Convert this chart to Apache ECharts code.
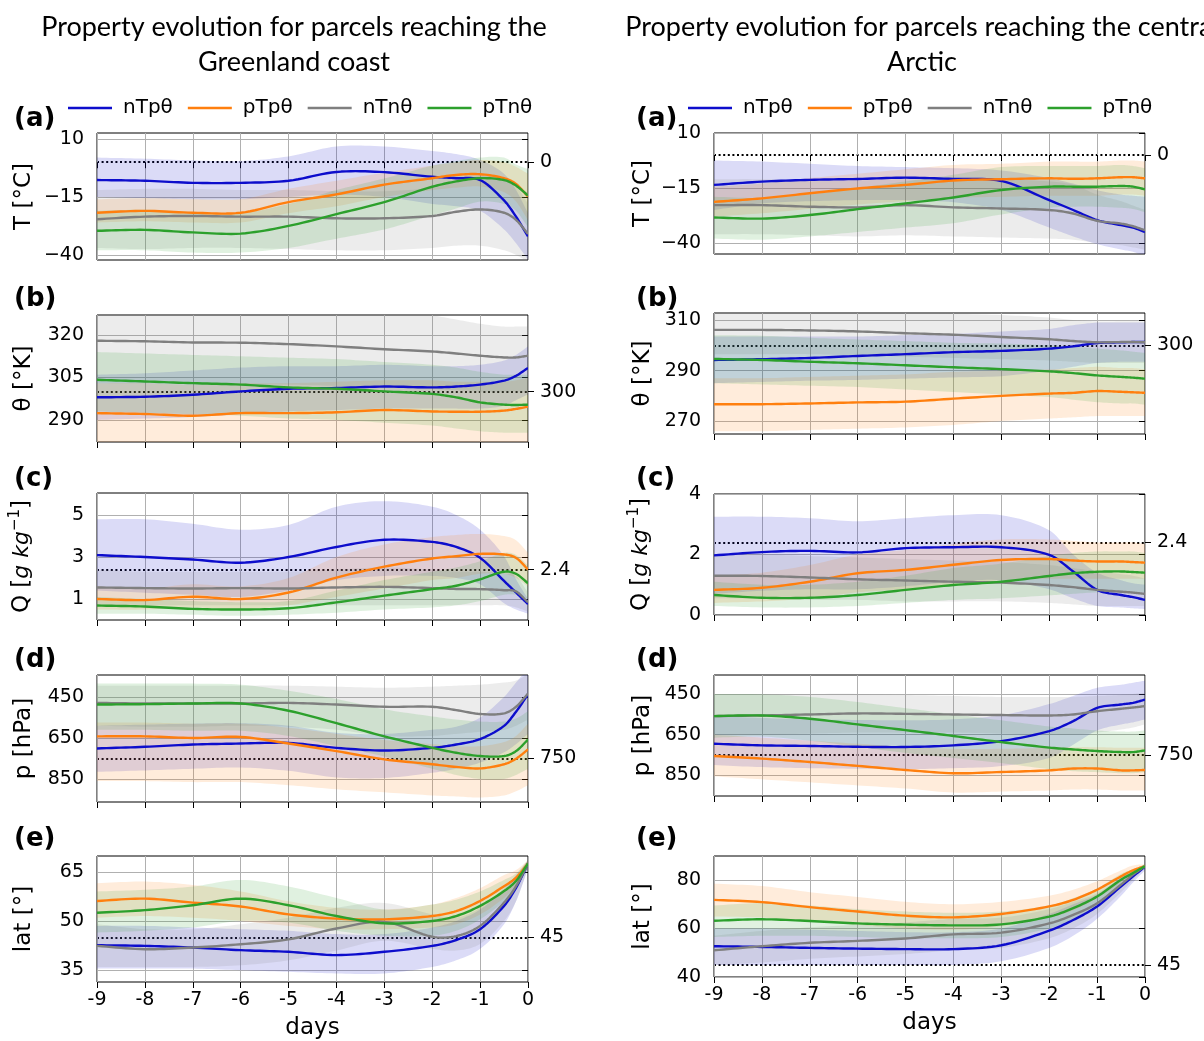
<!DOCTYPE html>
<html>
<head>
<meta charset="utf-8">
<title>Property evolution</title>
<script src="https://cdn.jsdelivr.net/npm/echarts@6/dist/echarts.min.js"></script>
<style>
  html, body { margin: 0; padding: 0; background: #fff; }
  #chart { width: 1204px; height: 1041px; }
</style>
</head>
<body>
<div id="chart"></div>
<script>
// x positions (days before arrival)
const days = [-9, -8, -7, -6, -5, -4, -3, -2, -1.5, -1, -0.5, -0.25, 0];
const groups = ['nTpθ', 'pTpθ', 'nTnθ', 'pTnθ'];
const groupColors = ['#0d0dcc', '#ff7f0e', '#7f7f7f', '#2ca02c'];

// ---- Greenland coast ----
// (a) T
const gT_nTp = [-7.7, -8.0, -8.9, -8.9, -8.0, -4.2, -4.3, -6.3, -6.9, -7.7, -16.5, -23.5, -32];
const gT_nTpLo = [-15, -15.5, -16, -16, -15, -14, -15, -18, -19, -21, -29, -35, -42];
const gT_nTpHi = [2, 1.5, 0.8, 0.5, 2.5, 6.8, 6.8, 4.8, 3.5, 1, -5, -12, -22];
const gT_pTp = [-21.8, -21, -21.8, -21.8, -17.2, -13.9, -9.7, -6.9, -5.5, -5.2, -6.9, -9.4, -14.8];
const gT_pTpLo = [-26, -25.5, -26, -26, -22, -19, -15, -12, -11, -10.5, -13, -17, -25];
const gT_pTpHi = [-16, -15.5, -16, -16, -11.5, -8, -4.5, -1.5, 0, 1, 0, -2, -5];
const gT_nTn = [-24.6, -23.5, -23.2, -23.5, -23.5, -24.2, -24.2, -23.2, -21.4, -20.4, -21.8, -24.9, -31];
const gT_nTnLo = [-37, -37.5, -37, -37, -37.5, -38, -38, -37, -36, -36, -38, -40, -43];
const gT_nTnHi = [-12, -11.5, -11.5, -12, -12, -12.5, -12.5, -11, -8.5, -6, -7, -10, -18];
const gT_pTn = [-29.6, -29.2, -30.3, -30.8, -27.5, -22.4, -17.2, -10.6, -8.3, -6.9, -7.7, -10.1, -14.4];
const gT_pTnLo = [-38, -38, -39, -39, -37, -33, -29, -23, -20, -17, -18, -21, -28];
const gT_pTnHi = [-21, -20.5, -21.5, -22, -18, -12, -7, -1.5, 0.5, 2, 2, -1, -3];
// (b) theta
const gTh_nTp = [298, 298.2, 298.9, 300.1, 301, 301.3, 301.8, 301.5, 301.8, 302.5, 303.9, 305.6, 308.4];
const gTh_nTpLo = [290, 290.5, 291, 292, 293, 293.5, 294, 294, 294, 294, 295, 297, 299];
const gTh_nTpHi = [306, 306.5, 307.5, 308.5, 309, 309, 309.5, 309, 309, 309.5, 311, 313, 316];
const gTh_pTp = [292.4, 292.1, 291.5, 292.4, 292.4, 292.7, 293.5, 293, 292.9, 292.9, 293.3, 293.9, 294.7];
const gTh_pTpLo = [279, 279, 278.5, 279, 279, 279.5, 280, 280, 280, 280, 280.5, 281, 281.5];
const gTh_pTpHi = [303, 303, 302.5, 303, 303, 303.5, 304, 304, 303.5, 303.5, 303.5, 304, 305];
const gTh_nTn = [318, 317.8, 317.4, 317.3, 316.8, 316, 315, 314.2, 313.5, 312.7, 312.1, 312.1, 312.7];
const gTh_nTnLo = [303, 303, 303, 302.5, 302.5, 302, 301.5, 301, 300.5, 300, 300, 300, 300];
const gTh_nTnHi = [333, 333, 332.5, 332.5, 332, 331, 329.5, 327, 325.5, 324, 323, 323, 323];
const gTh_pTn = [304.2, 303.6, 303, 302.5, 301.5, 301, 300.1, 299.2, 298, 296.2, 295.4, 295.3, 295.4];
const gTh_pTnLo = [293, 292.5, 292, 291.5, 290.5, 290, 289, 288, 287, 286, 285.5, 285.5, 285.5];
const gTh_pTnHi = [314, 313.5, 313, 312.5, 312, 311.5, 310.5, 309.5, 308.5, 307, 306, 306, 306];
// (c) Q
const gQ_nTp = [3.09, 3.0, 2.88, 2.73, 3.0, 3.48, 3.82, 3.72, 3.48, 2.96, 1.86, 1.31, 0.76];
const gQ_nTpLo = [1.4, 1.3, 1.2, 1.1, 1.4, 1.9, 2.1, 2.1, 2.0, 1.7, 0.8, 0.5, 0.3];
const gQ_nTpHi = [4.8, 4.8, 4.58, 4.3, 4.53, 5.4, 5.66, 5.4, 5.0, 4.3, 3.04, 1.94, 1.0];
const gQ_pTp = [1.0, 0.95, 1.11, 1.0, 1.31, 2.02, 2.54, 2.93, 3.04, 3.15, 3.12, 2.96, 2.41];
const gQ_pTpLo = [0.5, 0.5, 0.6, 0.5, 0.7, 1.1, 1.5, 1.9, 2.0, 2.2, 2.2, 2.0, 1.6];
const gQ_pTpHi = [1.6, 1.5, 1.7, 1.6, 2.0, 3.0, 3.6, 3.95, 4.05, 4.1, 4.0, 3.8, 3.2];
const gQ_nTn = [1.55, 1.52, 1.5, 1.52, 1.5, 1.55, 1.58, 1.52, 1.48, 1.47, 1.42, 1.36, 0.84];
const gQ_nTnLo = [0.7, 0.7, 0.7, 0.7, 0.7, 0.7, 0.7, 0.7, 0.7, 0.7, 0.7, 0.6, 0.4];
const gQ_nTnHi = [2.4, 2.3, 2.3, 2.3, 2.3, 2.4, 2.5, 2.4, 2.3, 2.3, 2.2, 2.1, 1.3];
const gQ_pTn = [0.69, 0.64, 0.53, 0.5, 0.56, 0.84, 1.16, 1.47, 1.63, 1.94, 2.3, 2.2, 1.75];
const gQ_pTnLo = [0.3, 0.3, 0.25, 0.2, 0.25, 0.35, 0.5, 0.6, 0.7, 0.9, 1.2, 1.2, 1.0];
const gQ_pTnHi = [1.1, 1.0, 0.9, 0.85, 0.9, 1.4, 1.9, 2.3, 2.5, 2.8, 3.2, 3.1, 2.6];
// (d) p
const gP_nTp = [701, 693, 682, 677, 674, 698, 711, 698, 682, 655, 591, 522, 437];
const gP_nTpLo = [590, 585, 580, 578, 590, 625, 630, 610, 595, 550, 450, 380, 310];
const gP_nTpHi = [815, 808, 800, 794, 810, 842, 845, 820, 800, 770, 720, 680, 630];
const gP_pTp = [642, 642, 650, 645, 677, 714, 754, 778, 791, 798, 778, 751, 706];
const gP_pTpLo = [575, 575, 580, 580, 600, 630, 660, 680, 690, 690, 670, 640, 580];
const gP_pTpHi = [860, 860, 865, 865, 880, 900, 915, 930, 935, 940, 930, 910, 880];
const gP_nTn = [479, 482, 482, 482, 479, 487, 498, 498, 514, 533, 530, 498, 434];
const gP_nTnLo = [395, 395, 395, 395, 395, 400, 405, 400, 395, 390, 380, 370, 340];
const gP_nTnHi = [590, 595, 595, 590, 595, 610, 640, 640, 630, 620, 610, 590, 560];
const gP_pTn = [487, 485, 482, 482, 517, 578, 642, 698, 722, 738, 738, 714, 658];
const gP_pTnLo = [385, 385, 385, 390, 420, 460, 510, 545, 560, 570, 570, 555, 520];
const gP_pTnHi = [610, 610, 615, 615, 640, 690, 740, 800, 830, 850, 850, 830, 800];
// (e) lat
const gL_nTp = [42.6, 42.4, 41.9, 41.1, 40.6, 39.6, 40.6, 42.4, 44.2, 47.5, 54.6, 60.1, 67.5];
const gL_nTpLo = [35.5, 35.5, 35.5, 35, 34.5, 34, 34, 36, 38, 41.5, 49, 56, 66];
const gL_nTpHi = [48.5, 48.5, 48, 47.5, 47, 46, 46, 48, 50, 53.5, 59.5, 63.5, 68.5];
const gL_pTp = [56.1, 56.8, 55.6, 54.4, 52, 50.7, 50.5, 51.5, 53, 56.1, 60.6, 63.2, 67.5];
const gL_pTpLo = [51, 51.5, 51, 50, 48.5, 47.5, 47.5, 48, 49, 52, 57, 61, 66];
const gL_pTpHi = [61.5, 62, 61, 59, 56, 54, 53.5, 55, 57, 60, 64, 65.5, 68.5];
const gL_nTn = [42.4, 41.4, 41.9, 42.9, 44.4, 47.7, 49.7, 45.2, 45.4, 48.5, 55.6, 60.6, 67.5];
const gL_nTnLo = [36, 36, 36, 36.5, 38, 41, 44, 41.5, 41, 43, 50, 56, 66];
const gL_nTnHi = [49, 47.5, 47.5, 49, 51, 54, 55.5, 52, 51, 54, 60, 64, 68.5];
const gL_pTn = [52.5, 53.3, 54.8, 56.8, 54.8, 51.5, 49.3, 50, 51.5, 54.6, 59.1, 62.2, 67.5];
const gL_pTnLo = [46.5, 47, 48, 50, 49.5, 47, 45.5, 45.5, 47, 50.5, 56, 60, 66];
const gL_pTnHi = [59, 59.5, 60.5, 62.5, 60.5, 57, 53.5, 55, 56.5, 59, 62.5, 64.5, 68.5];

// ---- central Arctic ----
// (a) T
const aT_nTp = [-13.6, -12.1, -11.3, -10.9, -10.3, -10.9, -11.8, -20.5, -25, -29.6, -31.9, -33, -35];
const aT_nTpLo = [-25, -22, -21, -20.5, -20.5, -21.5, -25, -33, -37, -40.5, -43, -44, -46];
const aT_nTpHi = [-2.5, -3, -4, -5, -5.5, -6, -7, -10.5, -13, -16, -18, -18.5, -19];
const aT_pTp = [-21.3, -19.7, -17.4, -15.2, -13.6, -11.6, -11, -10.6, -10.8, -10.6, -10.1, -10.1, -10.6];
const aT_pTpLo = [-28, -26.5, -24.5, -22.5, -21, -19.5, -19, -18.5, -18.5, -18.5, -18, -18, -18.5];
const aT_pTpHi = [-14.5, -13, -10.5, -8.5, -6.5, -4.5, -4, -3, -3, -3, -2.5, -2.5, -3];
const aT_nTn = [-22.8, -22.8, -23.5, -23.8, -22.8, -23.8, -24.3, -25, -26.6, -29.9, -31.2, -32.4, -34.2];
const aT_nTnLo = [-36, -36, -36.5, -37, -36.5, -37, -37.5, -38, -38.5, -40, -41, -42, -43];
const aT_nTnHi = [-11, -11, -11.5, -11.5, -11, -11, -11, -12, -13.5, -18, -21, -23, -25];
const aT_pTn = [-28.4, -28.9, -27.3, -24.6, -22, -19.3, -15.9, -14.4, -14.4, -14.4, -14.1, -14.4, -15.6];
const aT_pTnLo = [-38, -38.5, -37, -35, -33, -31, -27, -24, -23.5, -23.5, -24, -24.5, -26];
const aT_pTnHi = [-19, -19.5, -18, -15, -12, -9, -5.5, -5, -5, -5, -4.5, -5, -6];
// (b) theta
const aTh_nTp = [294.2, 294.5, 295, 295.8, 296.5, 297.3, 297.8, 298.7, 299.6, 300.9, 301.2, 301.3, 301.3];
const aTh_nTpLo = [285, 285.5, 286, 286.3, 286.8, 287.3, 287.8, 290, 291.5, 293, 293.5, 293.5, 293.5];
const aTh_nTpHi = [303.5, 303.5, 303.5, 303.5, 304, 304.5, 305.5, 306.5, 308, 309, 309, 309, 309];
const aTh_pTp = [276.7, 276.7, 277, 277.4, 277.7, 278.9, 280, 280.9, 281.2, 281.9, 281.6, 281.4, 281.2];
const aTh_pTpLo = [266, 266, 266.5, 267, 267.5, 268.5, 270, 271, 271.5, 272, 272, 272, 272];
const aTh_pTpHi = [287, 287, 287.5, 288, 288.5, 289.5, 290, 290.5, 291, 291.5, 291, 291, 290.5];
const aTh_nTn = [306.1, 306.1, 305.9, 305.5, 304.8, 304.2, 303.3, 302.4, 301.7, 301.2, 301.3, 301.3, 301.2];
const aTh_nTnLo = [296.5, 296.5, 296.5, 296, 295.5, 295, 294.5, 294, 293.5, 293, 293, 293, 293];
const aTh_nTnHi = [314, 314, 314, 313.5, 313, 312.5, 312, 311, 310, 309.5, 309.5, 309.5, 309.5];
const aTh_pTn = [294.6, 294.2, 293.5, 292.9, 292.1, 291.3, 290.6, 289.7, 289, 288.1, 287.5, 287.2, 286.8];
const aTh_pTnLo = [285, 284.5, 284, 283.5, 282.5, 281.5, 280.5, 279.5, 278.5, 277.5, 277, 277, 276.5];
const aTh_pTnHi = [304, 303.8, 303, 302.3, 301.7, 301, 300.7, 300, 299.5, 298.7, 298, 297.5, 297];
// (c) Q
const aQ_nTp = [1.97, 2.08, 2.12, 2.07, 2.21, 2.24, 2.24, 1.99, 1.44, 0.83, 0.66, 0.59, 0.5];
const aQ_nTpLo = [0.7, 0.8, 0.85, 0.85, 0.95, 1.1, 1.15, 0.85, 0.55, 0.3, 0.25, 0.22, 0.2];
const aQ_nTpHi = [3.25, 3.25, 3.2, 3.1, 3.2, 3.3, 3.3, 2.8, 2.0, 1.4, 1.15, 1.05, 1.0];
const aQ_pTp = [0.83, 0.9, 1.1, 1.38, 1.49, 1.66, 1.82, 1.85, 1.8, 1.77, 1.77, 1.75, 1.73];
const aQ_pTpLo = [0.4, 0.45, 0.55, 0.75, 0.85, 1.0, 1.15, 1.2, 1.2, 1.2, 1.2, 1.2, 1.2];
const aQ_pTpHi = [1.3, 1.4, 1.65, 2.0, 2.15, 2.35, 2.5, 2.5, 2.45, 2.4, 2.4, 2.4, 2.35];
const aQ_nTn = [1.3, 1.29, 1.24, 1.18, 1.14, 1.1, 1.07, 0.99, 0.92, 0.83, 0.77, 0.74, 0.7];
const aQ_nTnLo = [0.55, 0.55, 0.5, 0.5, 0.45, 0.45, 0.45, 0.4, 0.35, 0.3, 0.3, 0.3, 0.3];
const aQ_nTnHi = [2.0, 2.0, 1.95, 1.9, 1.85, 1.8, 1.75, 1.65, 1.55, 1.45, 1.35, 1.3, 1.2];
const aQ_pTn = [0.66, 0.57, 0.57, 0.66, 0.83, 0.99, 1.1, 1.29, 1.38, 1.43, 1.44, 1.42, 1.4];
const aQ_pTnLo = [0.3, 0.25, 0.25, 0.3, 0.4, 0.5, 0.55, 0.65, 0.7, 0.75, 0.75, 0.75, 0.75];
const aQ_pTnHi = [1.1, 1.0, 1.0, 1.1, 1.3, 1.55, 1.7, 1.95, 2.05, 2.1, 2.1, 2.1, 2.05];
// (d) p
const aP_nTp = [695, 703, 706, 710, 711, 703, 682, 633, 584, 519, 502, 494, 478];
const aP_nTpLo = [560, 568, 575, 578, 580, 575, 555, 500, 460, 420, 405, 395, 385];
const aP_nTpHi = [800, 810, 815, 818, 820, 815, 805, 765, 700, 630, 600, 590, 575];
const aP_pTp = [755, 768, 785, 804, 824, 840, 834, 826, 817, 817, 826, 826, 824];
const aP_pTpLo = [650, 665, 680, 695, 710, 720, 720, 715, 712, 712, 715, 715, 715];
const aP_pTpHi = [855, 870, 885, 900, 915, 935, 930, 925, 920, 920, 925, 925, 925];
const aP_nTn = [559, 556, 551, 546, 548, 551, 554, 556, 551, 535, 523, 517, 510];
const aP_nTnLo = [450, 450, 450, 450, 455, 460, 465, 465, 465, 460, 455, 450, 445];
const aP_nTnHi = [650, 650, 645, 640, 640, 640, 645, 650, 650, 640, 625, 615, 600];
const aP_pTn = [559, 556, 572, 600, 628, 657, 687, 714, 723, 731, 736, 736, 728];
const aP_pTnLo = [450, 452, 465, 490, 520, 550, 580, 610, 620, 630, 635, 635, 630];
const aP_pTnHi = [665, 660, 680, 710, 740, 765, 790, 820, 830, 835, 840, 840, 835];
// (e) lat
const aL_nTp = [52.7, 52.4, 52, 51.7, 51.5, 51.5, 53.1, 59.1, 63.5, 69.1, 77.4, 81.5, 85.5];
const aL_nTpLo = [45, 45, 45, 45, 45, 45, 46.5, 52, 57, 64, 73.5, 79, 84];
const aL_nTpHi = [60, 60, 59.5, 59, 58.5, 58.5, 60, 66, 70, 74, 81, 83.5, 86.5];
const aL_pTp = [71.8, 70.9, 68.8, 67, 65.3, 64.6, 66, 69.1, 71.8, 76, 81.5, 84, 85.7];
const aL_pTpLo = [65, 64.5, 63, 61.5, 60, 59.5, 61, 64.5, 67.5, 72.5, 79, 82.5, 85];
const aL_pTpHi = [78.5, 77.5, 75, 73, 71, 70, 71, 73.5, 76, 79.5, 84, 86, 86.5];
const aL_nTn = [51, 52.7, 54.1, 54.9, 55.9, 57.6, 58.3, 62.1, 65.6, 70.4, 78.1, 82.2, 85.7];
const aL_nTnLo = [45, 46, 47.5, 48.5, 49.5, 51, 52, 56, 60, 66, 75, 80, 85];
const aL_nTnHi = [57, 59, 60.5, 61.5, 62.5, 64, 64.5, 68, 71, 74.5, 81, 84, 86.5];
const aL_pTn = [63.2, 63.8, 63.1, 62.1, 61.6, 61.3, 61.7, 64.9, 68.4, 73.2, 80.1, 82.9, 85.7];
const aL_pTnLo = [56.5, 57, 57, 56.5, 56, 56, 56.5, 60, 64, 69.5, 77.5, 81.5, 85];
const aL_pTnHi = [69.5, 70.5, 69.5, 68, 67, 66.5, 67, 69.5, 72.5, 76.5, 82.5, 84.5, 86.5];

// tick labels and dotted reference values
const ticksT = [10, -15, -40];
const ticksThG = [320, 305, 290];
const ticksThA = [310, 290, 270];
const ticksQG = [5, 3, 1];
const ticksQA = [4, 2, 0];
const ticksP = [450, 650, 850];
const ticksLatG = [65, 50, 35];
const ticksLatA = [80, 60, 40];
const refValues = [0, 300, 2.4, 750, 45];

const qName = '{a|Q [}{b|g kg}{c|−1}{a|]}';
const axisNames = ['T [°C]', 'θ [°K]', qName, 'p [hPa]', 'lat [°]'];

const panels = [
  { col: 0, row: 0, min: -42.2, max: 12.6, ticks: ticksT, lines: [[gT_nTp, gT_nTpLo, gT_nTpHi], [gT_pTp, gT_pTpLo, gT_pTpHi], [gT_nTn, gT_nTnLo, gT_nTnHi], [gT_pTn, gT_pTnLo, gT_pTnHi]] },
  { col: 0, row: 1, min: 282.2, max: 327.1, ticks: ticksThG, lines: [[gTh_nTp, gTh_nTpLo, gTh_nTpHi], [gTh_pTp, gTh_pTpLo, gTh_pTpHi], [gTh_nTn, gTh_nTnLo, gTh_nTnHi], [gTh_pTn, gTh_pTnLo, gTh_pTnHi]] },
  { col: 0, row: 2, min: 0, max: 6.05, ticks: ticksQG, lines: [[gQ_nTp, gQ_nTpLo, gQ_nTpHi], [gQ_pTp, gQ_pTpLo, gQ_pTpHi], [gQ_nTn, gQ_nTnLo, gQ_nTnHi], [gQ_pTn, gQ_pTnLo, gQ_pTnHi]] },
  { col: 0, row: 3, min: 343, max: 962, inverse: true, ticks: ticksP, lines: [[gP_nTp, gP_nTpLo, gP_nTpHi], [gP_pTp, gP_pTpLo, gP_pTpHi], [gP_nTn, gP_nTnLo, gP_nTnHi], [gP_pTn, gP_pTnLo, gP_pTnHi]] },
  { col: 0, row: 4, min: 31.4, max: 69.8, ticks: ticksLatG, lines: [[gL_nTp, gL_nTpLo, gL_nTpHi], [gL_pTp, gL_pTpLo, gL_pTpHi], [gL_nTn, gL_nTnLo, gL_nTnHi], [gL_pTn, gL_pTnLo, gL_pTnHi]] },
  { col: 1, row: 0, min: -45, max: 10, ticks: ticksT, lines: [[aT_nTp, aT_nTpLo, aT_nTpHi], [aT_pTp, aT_pTpLo, aT_pTpHi], [aT_nTn, aT_nTnLo, aT_nTnHi], [aT_pTn, aT_pTnLo, aT_pTnHi]] },
  { col: 1, row: 1, min: 264.9, max: 312.8, ticks: ticksThA, lines: [[aTh_nTp, aTh_nTpLo, aTh_nTpHi], [aTh_pTp, aTh_pTpLo, aTh_pTpHi], [aTh_nTn, aTh_nTnLo, aTh_nTnHi], [aTh_pTn, aTh_pTnLo, aTh_pTnHi]] },
  { col: 1, row: 2, min: 0, max: 4, ticks: ticksQA, lines: [[aQ_nTp, aQ_nTpLo, aQ_nTpHi], [aQ_pTp, aQ_pTpLo, aQ_pTpHi], [aQ_nTn, aQ_nTnLo, aQ_nTnHi], [aQ_pTn, aQ_pTnLo, aQ_pTnHi]] },
  { col: 1, row: 3, min: 357, max: 952, inverse: true, ticks: ticksP, lines: [[aP_nTp, aP_nTpLo, aP_nTpHi], [aP_pTp, aP_pTpLo, aP_pTpHi], [aP_nTn, aP_nTnLo, aP_nTnHi], [aP_pTn, aP_pTnLo, aP_pTnHi]] },
  { col: 1, row: 4, min: 40, max: 89.9, ticks: ticksLatA, lines: [[aL_nTp, aL_nTpLo, aL_nTpHi], [aL_pTp, aL_pTpLo, aL_pTpHi], [aL_nTn, aL_nTnLo, aL_nTnHi], [aL_pTn, aL_pTnLo, aL_pTnHi]] }
];

// layout
const colLeft = [97, 714];
const colWidth = [431, 431];
const rowTops = [[133, 315, 493, 675, 856], [133, 313, 494, 675, 856]];
const rowHeight = [127, 121];
const letterY = [119, 299, 479, 660, 839];
const letterX = [14, 636];
const font = 'DejaVu Sans';

// cubic Hermite through pixel points (x increasing); used for band outlines and mean lines
function smoothCurve(p) {
  const n = p.length, m = [], out = [];
  for (let i = 0; i < n; i++) {
    const a = p[Math.max(i - 1, 0)], b = p[Math.min(i + 1, n - 1)];
    m.push((b[1] - a[1]) / (b[0] - a[0]));
  }
  for (let i = 0; i < n - 1; i++) {
    const h = p[i + 1][0] - p[i][0];
    for (let s = 0; s < 10; s++) {
      const t = s / 10, t2 = t * t, t3 = t2 * t;
      const y = (2 * t3 - 3 * t2 + 1) * p[i][1] + (t3 - 2 * t2 + t) * h * m[i]
        + (-2 * t3 + 3 * t2) * p[i + 1][1] + (t3 - t2) * h * m[i + 1];
      out.push([p[i][0] + t * h, y]);
    }
  }
  out.push(p[n - 1]);
  return out;
}

// shaded spread drawn as one polygon per group
function bandRenderer(lo, hi, color) {
  return function (params, api) {
    if (params.dataIndex !== 0) return null;
    const upper = smoothCurve(days.map((d, j) => api.coord([d, hi[j]])));
    const lower = smoothCurve(days.map((d, j) => api.coord([d, lo[j]])));
    const cs = params.coordSys;
    const pts = upper.concat(lower.reverse());
    return {
      type: 'polygon',
      shape: { points: echarts.graphic.clipPointsByRect(pts, { x: cs.x, y: cs.y, width: cs.width, height: cs.height }) },
      style: { fill: color, opacity: 0.15 },
      silent: true
    };
  };
}

// mean line drawn with the same smoothing as the bands
function lineRenderer(mean, color) {
  return function (params, api) {
    if (params.dataIndex !== 0) return null;
    const cs = params.coordSys;
    const pts = smoothCurve(days.map((d, j) => api.coord([d, mean[j]])));
    return {
      type: 'polyline',
      shape: { points: echarts.graphic.clipPointsByRect(pts, { x: cs.x, y: cs.y, width: cs.width, height: cs.height }) },
      style: { stroke: color, lineWidth: 2.4, fill: null, lineJoin: 'round' },
      silent: true
    };
  };
}

const grids = [], xAxes = [], yAxes = [], series = [], graphics = [];
const minus = v => String(v).replace('-', '\u2212');

panels.forEach((p, i) => {
  const last = p.row === 4;
  grids.push({
    left: colLeft[p.col], top: rowTops[p.col][p.row],
    width: colWidth[p.col], height: rowHeight[p.col],
    show: true, borderColor: '#000', borderWidth: 1, backgroundColor: 'transparent'
  });
  xAxes.push({
    gridIndex: i, type: 'value', min: -9, max: 0, interval: 1,
    axisLine: { show: false },
    axisTick: { show: true, length: 6, lineStyle: { color: '#000' } },
    axisLabel: { show: last, fontSize: 19, fontFamily: font, color: '#000', margin: 9 },
    splitLine: { show: true, lineStyle: { color: '#b0b0b0', width: 1 } },
    name: last ? 'days' : '', nameLocation: 'middle', nameGap: 35,
    nameTextStyle: { fontSize: 23, fontFamily: font, color: '#000' }
  });
  // left axis with ticks
  yAxes.push({
    gridIndex: i, type: 'value', min: p.min, max: p.max, inverse: !!p.inverse, position: 'left',
    axisLine: { show: false },
    axisTick: { show: true, length: 6, customValues: p.ticks, lineStyle: { color: '#000' } },
    axisLabel: { customValues: p.ticks, formatter: minus, fontSize: 19, fontFamily: font, color: '#000', margin: 13 },
    splitLine: { show: true, lineStyle: { color: '#b0b0b0', width: 1 } },
    name: axisNames[p.row], nameLocation: 'middle', nameRotate: 90, nameGap: p.col ? 59 : 61,
    nameTextStyle: {
      fontSize: 23, fontFamily: font, color: '#000',
      rich: {
        a: { fontSize: 23, fontFamily: font, color: '#000', lineHeight: 28 },
        b: { fontSize: 22, fontFamily: font, fontStyle: 'italic', color: '#000', lineHeight: 28 },
        c: { fontSize: 15, fontFamily: font, color: '#000', lineHeight: 28, verticalAlign: 'top' }
      }
    }
  });
  // right axis: dotted reference line and its label
  yAxes.push({
    gridIndex: i, type: 'value', min: p.min, max: p.max, inverse: !!p.inverse, position: 'right',
    axisLine: { show: false },
    axisTick: { show: true, length: 6, customValues: [refValues[p.row]], lineStyle: { color: '#000' } },
    axisLabel: { customValues: [refValues[p.row]], formatter: v => String(v), fontSize: 19, fontFamily: font, color: '#000', margin: 12 },
    splitLine: { show: true, lineStyle: { color: '#000', width: 2, type: [2, 2.6] } }
  });

  p.lines.forEach(([mean, lo, hi], k) => {
    series.push({
      type: 'custom', name: groups[k] + ' spread', xAxisIndex: i, yAxisIndex: 2 * i,
      data: days.map((d, j) => [d, lo[j], hi[j]]), encode: { x: 0, y: [1, 2] },
      renderItem: bandRenderer(lo, hi, groupColors[k]), clip: true, silent: true, z: 1
    });
  });
  p.lines.forEach(([mean], k) => {
    series.push({
      type: 'custom', name: groups[k], xAxisIndex: i, yAxisIndex: 2 * i,
      data: days.map((d, j) => [d, mean[j]]), encode: { x: 0, y: 1 },
      renderItem: lineRenderer(mean, groupColors[k]), clip: true, silent: true,
      itemStyle: { color: groupColors[k] }, z: 3
    });
  });

  graphics.push({
    type: 'text', x: letterX[p.col], y: letterY[p.row],
    style: { text: '(' + 'abcde'[p.row] + ')', font: 'bold 26px "DejaVu Sans"', fill: '#000', textVerticalAlign: 'middle' }
  });
});

// column titles
const titleFont = '27px Lato';
graphics.push(
  { type: 'text', x: 294, y: 27, style: { text: 'Property evolution for parcels reaching the', font: titleFont, fill: '#000', textAlign: 'center', textVerticalAlign: 'middle' } },
  { type: 'text', x: 294, y: 62, style: { text: 'Greenland coast', font: titleFont, fill: '#000', textAlign: 'center', textVerticalAlign: 'middle' } },
  { type: 'text', x: 922, y: 27, style: { text: 'Property evolution for parcels reaching the central', font: titleFont, fill: '#000', textAlign: 'center', textVerticalAlign: 'middle' } },
  { type: 'text', x: 922, y: 62, style: { text: 'Arctic', font: titleFont, fill: '#000', textAlign: 'center', textVerticalAlign: 'middle' } }
);

const chart = echarts.init(document.getElementById('chart'));
chart.setOption({
  animation: false,
  backgroundColor: '#fff',
  legend: [63, 683].map(x => ({
    data: groups, left: x, top: 93, icon: 'rect', itemWidth: 44, itemHeight: 2.5, itemGap: 15,
    selectedMode: false,
    textStyle: { fontSize: 20, fontFamily: font, color: '#000', padding: [0, 0, 0, 6] }
  })),
  grid: grids,
  xAxis: xAxes,
  yAxis: yAxes,
  series,
  graphic: graphics
});
window.onresize = function () {
  chart.resize();
};
</script>
</body>
</html>
